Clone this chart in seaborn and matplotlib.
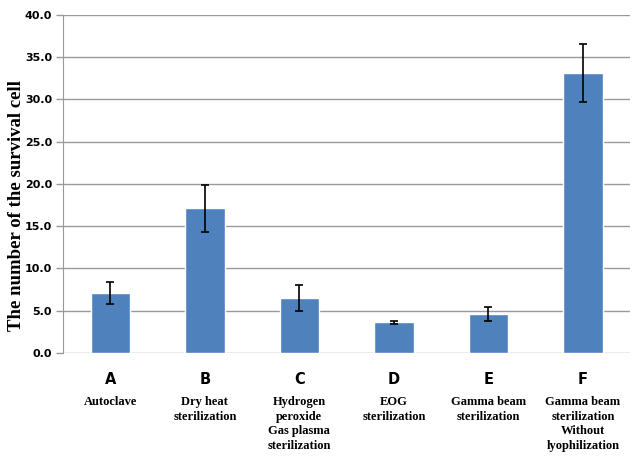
import matplotlib
matplotlib.use('Agg')
import matplotlib.pyplot as plt
import seaborn as sns
import pandas as pd

# dados
letras = ['A', 'B', 'C', 'D', 'E', 'F']
metodos = ['Autoclave',
           'Dry heat\nsterilization',
           'Hydrogen\nperoxide\nGas plasma\nsterilization',
           'EOG\nsterilization',
           'Gamma beam\nsterilization',
           'Gamma beam\nsterilization\nWithout\nlyophilization']
media = [7.1, 17.1, 6.5, 3.6, 4.6, 33.1]
erro = [1.3, 2.8, 1.5, 0.2, 0.8, 3.4]
yticks = [0, 5, 10, 15, 20, 25, 30, 35, 40]

df = pd.DataFrame({'grupo': letras, 'valor': media})

sns.set_style('white')
fig = plt.figure(figsize=(6.32, 4.66), dpi=100)
ax = fig.add_axes([0.1, 0.243, 0.897, 0.725])

sns.barplot(data=df, x='grupo', y='valor', color='#4F81BD', width=0.42,
            saturation=1, ax=ax, errorbar=None)
ax.errorbar(range(len(letras)), media, yerr=erro, fmt='none',
            ecolor='black', elinewidth=1.2, capsize=3, capthick=1.2)

ax.set_ylim(0, 40)
ax.set_xlim(-0.5, 5.5)
ax.set_yticks(yticks)
ax.set_yticklabels([f'{v:.1f}' for v in yticks], fontsize=8, fontweight='bold',
                   family='DejaVu Sans', color='black')
ax.yaxis.grid(True, color='#999999', linewidth=1)
ax.set_axisbelow(True)
for s in ['top', 'right', 'bottom']:
    ax.spines[s].set_visible(False)
ax.spines['left'].set_color('#999999')
ax.tick_params(axis='y', length=5, color='#999999', width=1, left=True, pad=3)
ax.tick_params(axis='x', length=0, pad=14)
ax.set_xticks(range(len(letras)))
ax.set_xticklabels(letras, fontsize=10.5, fontweight='bold', family='DejaVu Sans',
                   color='black')
ax.set_xlabel('')
ax.set_ylabel('The number of the survival cell', fontsize=13.5, fontweight='bold',
              family='Liberation Serif', color='black')
ax.yaxis.set_label_coords(-0.067, 0.435)

# descricao embaixo de cada letra
for i, txt in enumerate(metodos):
    ax.annotate(txt, xy=(i, 0), xycoords=('data', 'axes fraction'),
                xytext=(0, -31), textcoords='offset points', ha='center', va='top',
                fontsize=9, fontweight='bold', family='Liberation Serif',
                linespacing=1.3, color='black')

plt.savefig('out.png', dpi=100)
